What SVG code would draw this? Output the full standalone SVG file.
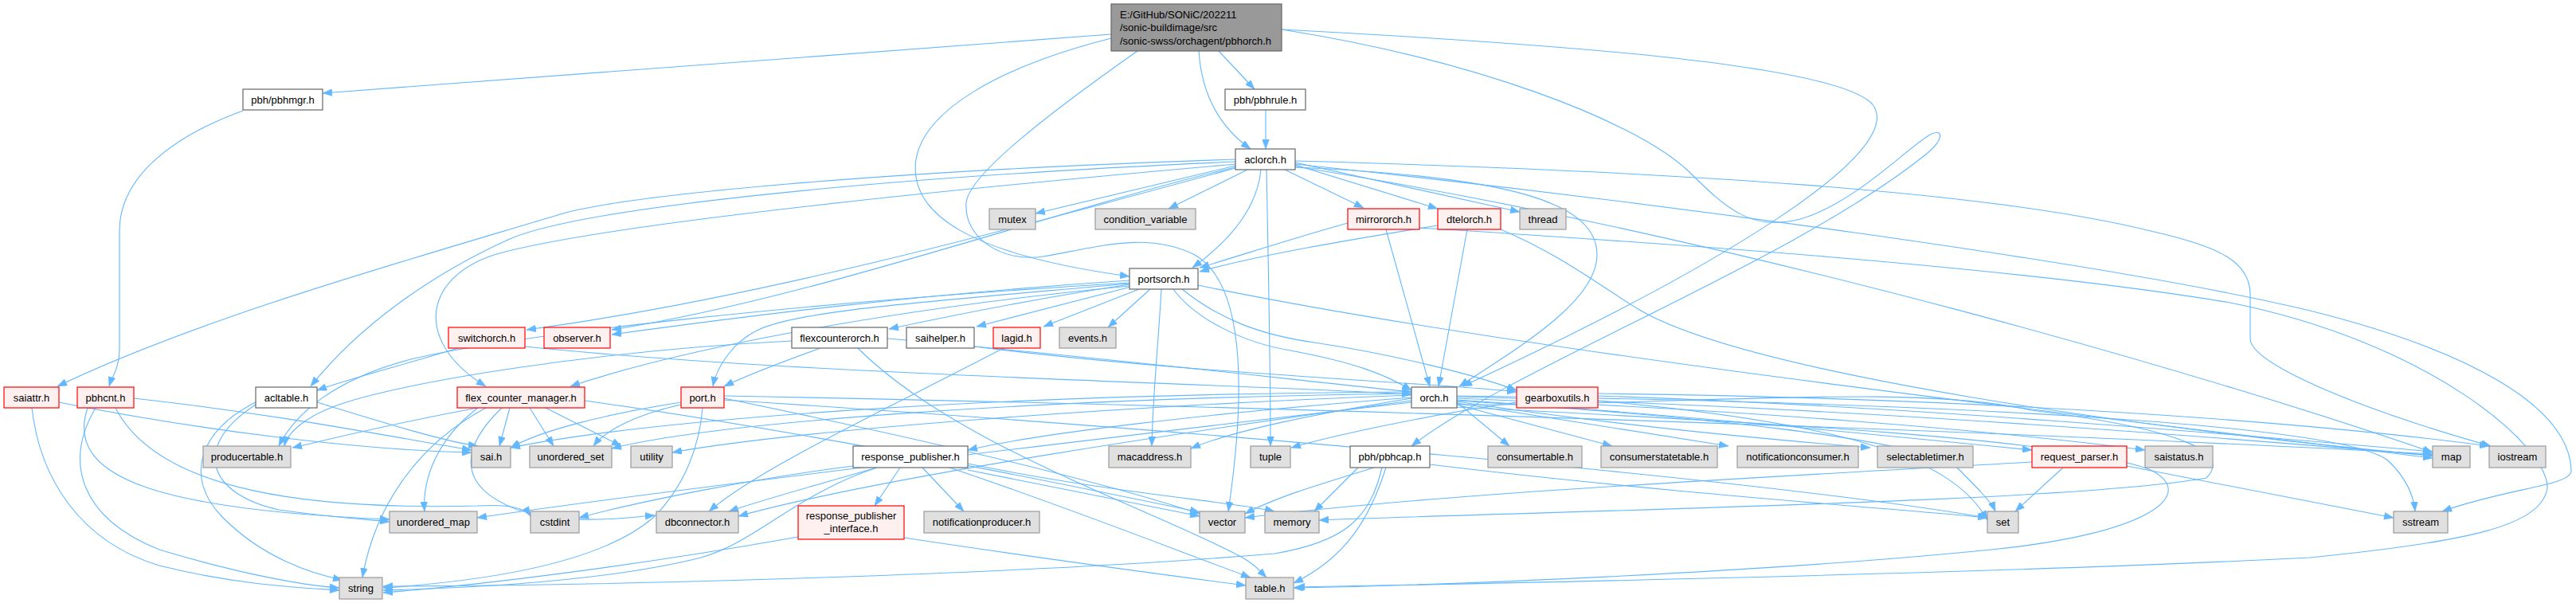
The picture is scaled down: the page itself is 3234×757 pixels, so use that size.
<svg xmlns="http://www.w3.org/2000/svg" width="3234" height="757" viewBox="0 0 3234 757">
<style>
.e{fill:none;stroke:#63B8FF;stroke-width:1.1;marker-end:url(#ah)}
.w rect{fill:#FFFFFF;stroke:#666666;stroke-width:1.2}
.g rect{fill:#E0E0E0;stroke:#999999;stroke-width:1.2}
.r rect{fill:#FFF0F0;stroke:#FF0000;stroke-width:1.2}
.top rect{fill:#999999;stroke:#666666;stroke-width:1.2}
text{font-family:"Liberation Sans",Arial,Helvetica,sans-serif;font-size:13px;fill:#000000}
.c{text-anchor:middle}
</style>
<defs>
<marker id="ah" markerWidth="12" markerHeight="9" refX="12" refY="4.5" orient="auto" markerUnits="userSpaceOnUse"><path d="M0,0 L12,4.5 L0,9 z" fill="#63B8FF" stroke="#63B8FF" stroke-width="0.5"/></marker>
</defs>
<rect width="3234" height="757" fill="#FFFFFF"/>
<g id="connectors">
<path class="e" d="M1395,43 L405,117"/>
<path class="e" d="M1530,64 L1575,112"/>
<path class="e" d="M1505,64 C1508,110 1525,155 1570,187"/>
<path class="e" d="M1395,48 C1250,85 1160,140 1150,200 C1140,270 1220,320 1418,347"/>
<path class="e" d="M1428,64 C1320,140 1215,220 1213,255 C1210,300 1260,330 1310,322 C1380,310 1440,290 1500,320 C1570,360 1560,520 1542,642"/>
<path class="e" d="M1609,37 C1950,55 2300,80 2350,130 C2400,190 2150,340 1836,485"/>
<path class="e" d="M1609,37 C1850,75 2050,150 2120,215 C2170,265 2200,290 2260,275 C2330,255 2400,180 2425,168 C2440,162 2440,175 2420,192 C2250,330 1900,460 1772,560"/>
<path class="e" d="M305,139 C220,170 150,220 150,290 L150,440 C150,460 140,475 137,485"/>
<path class="e" d="M1589,138 L1589,187"/>
<path class="e" d="M1551,208 L1300,268"/>
<path class="e" d="M1566,213 L1467,262"/>
<path class="e" d="M1613,213 L1712,261"/>
<path class="e" d="M1626,207 L1805,262"/>
<path class="e" d="M1626,204 L1908,266"/>
<path class="e" d="M1583,213 C1578,265 1540,305 1497,336"/>
<path class="e" d="M1626,210 C1900,222 2005,255 2005,320 C2005,380 1900,440 1832,485"/>
<path class="e" d="M1590,213 C1592,320 1595,450 1595,560"/>
<path class="e" d="M1626,202 C2100,215 2500,240 2700,290 C2790,310 2825,330 2825,370 L2825,425 C2825,455 2950,510 3127,560"/>
<path class="e" d="M1626,206 C2050,250 2650,330 2900,390 C3100,440 3225,510 3228,590 C3230,610 3150,612 3066,642"/>
<path class="e" d="M1626,209 C2200,300 2800,480 3054,568"/>
<path class="e" d="M1551,200 C1100,215 780,245 700,270 C500,330 250,400 72,485"/>
<path class="e" d="M1551,203 C1050,225 720,265 640,300 C540,345 450,410 390,485"/>
<path class="e" d="M1551,206 C1050,250 720,290 620,320 C530,350 520,430 610,485"/>
<path class="e" d="M1551,210 C1330,262 1020,375 768,414"/>
<path class="e" d="M1551,211 C1260,290 950,375 661,414"/>
<path class="e" d="M1692,280 C1620,300 1560,320 1506,336"/>
<path class="e" d="M1740,288 L1795,485"/>
<path class="e" d="M1782,286 C2000,300 2500,330 2800,380 C3050,430 3200,560 3198,613 C3190,660 3100,680 2900,700 C2500,720 1900,732 1626,737"/>
<path class="e" d="M1805,283 C1700,300 1580,320 1506,341"/>
<path class="e" d="M1842,288 L1806,485"/>
<path class="e" d="M1884,288 C1960,320 2010,360 2060,390 C2200,470 2700,540 3054,572"/>
<path class="e" d="M1444,363 L1391,411"/>
<path class="e" d="M1458,363 C1455,420 1447,500 1446,560"/>
<path class="e" d="M1473,363 C1500,400 1560,430 1620,440 C1700,455 1740,470 1772,490"/>
<path class="e" d="M1484,363 C1530,400 1580,420 1650,430 C1750,445 1850,470 1904,490"/>
<path class="e" d="M1504,358 C1900,440 2600,520 3054,575"/>
<path class="e" d="M1430,363 L1310,410"/>
<path class="e" d="M1420,360 L1226,410"/>
<path class="e" d="M1418,357 C1300,375 1200,395 1116,413"/>
<path class="e" d="M1418,356 C1150,380 1000,390 950,415 C920,430 900,460 895,485"/>
<path class="e" d="M1418,352 C1150,370 950,395 768,420"/>
<path class="e" d="M1418,359 C1100,390 850,440 716,485"/>
<path class="e" d="M1418,355 C1000,380 650,420 520,450 C420,475 370,520 350,560"/>
<path class="e" d="M575,437 C500,460 440,475 398,490"/>
<path class="e" d="M659,435 C1000,470 1500,480 1772,495"/>
<path class="e" d="M1114,425 C1400,450 1650,480 1772,492"/>
<path class="e" d="M1030,437 C980,455 940,470 909,485"/>
<path class="e" d="M1077,437 C1200,560 1450,640 1560,700 C1580,712 1585,720 1590,725"/>
<path class="e" d="M994,428 C750,440 500,480 420,510 C380,525 360,545 357,560"/>
<path class="e" d="M1223,435 C1500,470 1800,480 1904,492"/>
<path class="e" d="M1260,437 C1100,520 950,590 890,642"/>
<path class="e" d="M855,505 C760,520 680,540 641,562"/>
<path class="e" d="M855,508 C800,520 760,540 745,560"/>
<path class="e" d="M882,512 C878,560 860,610 820,650 C750,710 600,730 481,738"/>
<path class="e" d="M909,500 C1200,560 1400,610 1506,645"/>
<path class="e" d="M909,497 C1600,510 2500,540 3054,570"/>
<path class="e" d="M909,502 C1500,540 2200,600 2495,650"/>
<path class="e" d="M1130,587 L1098,635"/>
<path class="e" d="M1158,587 L1210,642"/>
<path class="e" d="M1101,587 C1020,610 950,630 915,642"/>
<path class="e" d="M1192,587 C1350,640 1500,700 1570,725"/>
<path class="e" d="M1215,590 L1506,648"/>
<path class="e" d="M1215,582 C1400,620 1550,630 1600,642"/>
<path class="e" d="M1071,585 C950,600 800,630 727,650"/>
<path class="e" d="M1101,587 C1000,620 950,680 880,700 C760,730 600,738 481,741"/>
<path class="e" d="M1002,674 C800,710 600,735 481,744"/>
<path class="e" d="M1135,675 C1300,700 1450,720 1564,735"/>
<path class="e" d="M1829,505 L1895,560"/>
<path class="e" d="M1829,508 L2024,560"/>
<path class="e" d="M1829,506 L2170,560"/>
<path class="e" d="M1829,504 C2000,530 2200,550 2348,562"/>
<path class="e" d="M1829,502 C2100,520 2350,545 2551,565"/>
<path class="e" d="M1829,500 C2200,515 2500,540 2693,565"/>
<path class="e" d="M1829,498 C2300,510 2800,550 3054,572"/>
<path class="e" d="M1829,503 C2100,520 2420,550 2460,590 C2480,610 2500,630 2505,642"/>
<path class="e" d="M1829,508 C2100,510 2400,480 2550,515 C2750,540 2800,570 2770,600 C2600,630 2000,640 1656,653"/>
<path class="e" d="M1829,511 C2200,530 2600,550 2700,590 C2760,620 2700,670 2500,690 C2200,720 1800,735 1624,738"/>
<path class="e" d="M1829,497 C2400,505 2950,530 3000,580 C3020,600 3030,620 3032,642"/>
<path class="e" d="M1772,500 C1650,520 1550,540 1495,563"/>
<path class="e" d="M1772,496 C1400,510 1000,540 844,568"/>
<path class="e" d="M1772,494 C1300,500 900,530 768,563"/>
<path class="e" d="M1772,492 C1200,495 800,530 641,562"/>
<path class="e" d="M1772,499 C1500,520 1300,545 1215,565"/>
<path class="e" d="M1772,503 C1500,540 1100,600 927,648"/>
<path class="e" d="M1772,505 C1300,560 800,620 599,650"/>
<path class="e" d="M1904,505 C1800,520 1680,545 1621,562"/>
<path class="e" d="M2006,497 C2400,510 2800,545 3054,567"/>
<path class="e" d="M2006,503 C2300,530 2450,570 2495,653"/>
<path class="e" d="M2006,494 C2500,500 2900,530 3125,560"/>
<path class="e" d="M1705,587 L1650,642"/>
<path class="e" d="M1725,587 C1650,610 1600,625 1563,645"/>
<path class="e" d="M1735,587 C1720,650 1690,680 1600,695 C1300,720 800,735 481,736"/>
<path class="e" d="M1740,587 C1720,650 1690,700 1624,732"/>
<path class="e" d="M1795,583 C2100,620 2400,640 2495,650"/>
<path class="e" d="M2590,587 L2530,642"/>
<path class="e" d="M2670,585 L3005,650"/>
<path class="e" d="M2551,580 C2200,600 1800,620 1563,650"/>
<path class="e" d="M168,500 C350,520 500,550 592,565"/>
<path class="e" d="M120,512 C80,580 100,650 200,690 C300,720 380,735 426,738"/>
<path class="e" d="M110,512 C80,600 200,640 489,652"/>
<path class="e" d="M145,512 C200,620 400,640 600,635 C640,633 660,638 666,648"/>
<path class="e" d="M74,505 C250,540 450,565 592,568"/>
<path class="e" d="M40,512 C50,600 100,680 200,710 C300,735 380,738 426,741"/>
<path class="e" d="M398,505 C480,530 560,555 600,560"/>
<path class="e" d="M321,505 C250,540 230,600 280,650 C330,700 390,720 430,728"/>
<path class="e" d="M321,508 C240,560 260,620 350,640 C420,650 460,652 489,655"/>
<path class="e" d="M600,512 C500,530 420,550 367,562"/>
<path class="e" d="M640,512 L627,560"/>
<path class="e" d="M665,512 L695,560"/>
<path class="e" d="M685,512 L780,560"/>
<path class="e" d="M600,512 C550,550 530,600 533,642"/>
<path class="e" d="M610,512 C520,560 470,640 455,725"/>
<path class="e" d="M630,512 C580,560 570,610 650,640 C720,660 780,650 822,647"/>
<path class="e" d="M734,503 C1000,540 1300,600 1506,643"/>
</g>
<g id="n_pbhorch" class="top"><rect x="1395" y="5" width="214" height="59"/><text x="1406" y="23">E:/GitHub/SONiC/202211</text><text x="1406" y="39">/sonic-buildimage/src</text><text x="1406" y="56">/sonic-swss/orchagent/pbhorch.h</text></g>
<g id="n_pbhmgr" class="w"><rect x="305" y="112" width="100" height="26"/><text class="c" x="355" y="130">pbh/pbhmgr.h</text></g>
<g id="n_pbhrule" class="w"><rect x="1538" y="112" width="101" height="26"/><text class="c" x="1588.5" y="130">pbh/pbhrule.h</text></g>
<g id="n_aclorch" class="w"><rect x="1551" y="187" width="75" height="26"/><text class="c" x="1588.5" y="205">aclorch.h</text></g>
<g id="n_mutex" class="g"><rect x="1242" y="262" width="58" height="26"/><text class="c" x="1271" y="280">mutex</text></g>
<g id="n_condvar" class="g"><rect x="1375" y="262" width="126" height="26"/><text class="c" x="1438" y="280">condition_variable</text></g>
<g id="n_mirrororch" class="r"><rect x="1692" y="262" width="90" height="26"/><text class="c" x="1737" y="280">mirrororch.h</text></g>
<g id="n_dtelorch" class="r"><rect x="1805" y="262" width="79" height="26"/><text class="c" x="1844.5" y="280">dtelorch.h</text></g>
<g id="n_thread" class="g"><rect x="1908" y="262" width="58" height="26"/><text class="c" x="1937" y="280">thread</text></g>
<g id="n_portsorch" class="w"><rect x="1418" y="337" width="86" height="26"/><text class="c" x="1461" y="355">portsorch.h</text></g>
<g id="n_switchorch" class="r"><rect x="563" y="411" width="96" height="26"/><text class="c" x="611" y="429">switchorch.h</text></g>
<g id="n_observer" class="r"><rect x="683" y="411" width="83" height="26"/><text class="c" x="724.5" y="429">observer.h</text></g>
<g id="n_flexcounterorch" class="w"><rect x="994" y="411" width="120" height="26"/><text class="c" x="1054" y="429">flexcounterorch.h</text></g>
<g id="n_saihelper" class="w"><rect x="1138" y="411" width="85" height="26"/><text class="c" x="1180.5" y="429">saihelper.h</text></g>
<g id="n_lagid" class="r"><rect x="1247" y="411" width="59" height="26"/><text class="c" x="1276.5" y="429">lagid.h</text></g>
<g id="n_events" class="g"><rect x="1330" y="411" width="71" height="26"/><text class="c" x="1365.5" y="429">events.h</text></g>
<g id="n_saiattr" class="r"><rect x="5" y="486" width="69" height="26"/><text class="c" x="39.5" y="504">saiattr.h</text></g>
<g id="n_pbhcnt" class="r"><rect x="97" y="486" width="71" height="26"/><text class="c" x="132.5" y="504">pbhcnt.h</text></g>
<g id="n_acltable" class="w"><rect x="321" y="486" width="77" height="26"/><text class="c" x="359.5" y="504">acltable.h</text></g>
<g id="n_fcm" class="r"><rect x="574" y="486" width="160" height="26"/><text class="c" x="654" y="504">flex_counter_manager.h</text></g>
<g id="n_port" class="r"><rect x="855" y="486" width="54" height="26"/><text class="c" x="882" y="504">port.h</text></g>
<g id="n_orch" class="w"><rect x="1772" y="486" width="57" height="26"/><text class="c" x="1800.5" y="504">orch.h</text></g>
<g id="n_gearboxutils" class="r"><rect x="1904" y="486" width="102" height="26"/><text class="c" x="1955" y="504">gearboxutils.h</text></g>
<g id="n_producertable" class="g"><rect x="255" y="560" width="110" height="27"/><text class="c" x="310" y="578">producertable.h</text></g>
<g id="n_sai" class="g"><rect x="592" y="560" width="49" height="27"/><text class="c" x="616.5" y="578">sai.h</text></g>
<g id="n_unordered_set" class="g"><rect x="665" y="560" width="103" height="27"/><text class="c" x="716.5" y="578">unordered_set</text></g>
<g id="n_utility" class="g"><rect x="792" y="560" width="52" height="27"/><text class="c" x="818" y="578">utility</text></g>
<g id="n_response_publisher" class="w"><rect x="1071" y="560" width="144" height="27"/><text class="c" x="1143" y="578">response_publisher.h</text></g>
<g id="n_macaddress" class="g"><rect x="1392" y="560" width="103" height="27"/><text class="c" x="1443.5" y="578">macaddress.h</text></g>
<g id="n_tuple" class="g"><rect x="1570" y="560" width="50" height="27"/><text class="c" x="1595" y="578">tuple</text></g>
<g id="n_pbhcap" class="w"><rect x="1695" y="560" width="100" height="27"/><text class="c" x="1745" y="578">pbh/pbhcap.h</text></g>
<g id="n_consumertable" class="g"><rect x="1868" y="560" width="118" height="27"/><text class="c" x="1927" y="578">consumertable.h</text></g>
<g id="n_consumerstatetable" class="g"><rect x="2010" y="560" width="146" height="27"/><text class="c" x="2083" y="578">consumerstatetable.h</text></g>
<g id="n_notificationconsumer" class="g"><rect x="2181" y="560" width="152" height="27"/><text class="c" x="2257" y="578">notificationconsumer.h</text></g>
<g id="n_selectabletimer" class="g"><rect x="2357" y="560" width="120" height="27"/><text class="c" x="2417" y="578">selectabletimer.h</text></g>
<g id="n_request_parser" class="r"><rect x="2551" y="560" width="119" height="27"/><text class="c" x="2610.5" y="578">request_parser.h</text></g>
<g id="n_saistatus" class="g"><rect x="2693" y="560" width="85" height="27"/><text class="c" x="2735.5" y="578">saistatus.h</text></g>
<g id="n_map" class="g"><rect x="3054" y="560" width="47" height="27"/><text class="c" x="3077.5" y="578">map</text></g>
<g id="n_iostream" class="g"><rect x="3125" y="560" width="71" height="27"/><text class="c" x="3160.5" y="578">iostream</text></g>
<g id="n_unordered_map" class="g"><rect x="489" y="642" width="110" height="27"/><text class="c" x="544" y="660">unordered_map</text></g>
<g id="n_cstdint" class="g"><rect x="666" y="642" width="61" height="27"/><text class="c" x="696.5" y="660">cstdint</text></g>
<g id="n_dbconnector" class="g"><rect x="824" y="642" width="103" height="27"/><text class="c" x="875.5" y="660">dbconnector.h</text></g>
<g id="n_rpi" class="r"><rect x="1002" y="635" width="133" height="42"/><text class="c" x="1068.5" y="652">response_publisher</text><text class="c" x="1068.5" y="668">_interface.h</text></g>
<g id="n_notificationproducer" class="g"><rect x="1160" y="642" width="145" height="27"/><text class="c" x="1232.5" y="660">notificationproducer.h</text></g>
<g id="n_vector" class="g"><rect x="1506" y="642" width="57" height="27"/><text class="c" x="1534.5" y="660">vector</text></g>
<g id="n_memory" class="g"><rect x="1588" y="642" width="68" height="27"/><text class="c" x="1622" y="660">memory</text></g>
<g id="n_set" class="g"><rect x="2495" y="642" width="39" height="27"/><text class="c" x="2514.5" y="660">set</text></g>
<g id="n_sstream" class="g"><rect x="3005" y="642" width="68" height="27"/><text class="c" x="3039" y="660">sstream</text></g>
<g id="n_string" class="g"><rect x="426" y="725" width="54" height="27"/><text class="c" x="453" y="743">string</text></g>
<g id="n_table" class="g"><rect x="1564" y="725" width="60" height="27"/><text class="c" x="1594" y="743">table.h</text></g>
</svg>
